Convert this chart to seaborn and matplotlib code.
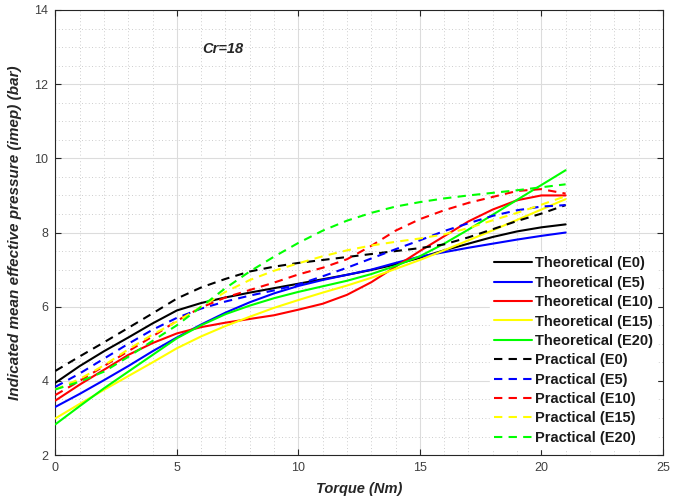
"""
Indicated mean effective pressure vs torque (Cr=18), theoretical vs practical.
"""

import numpy as np
import pandas as pd
import matplotlib
matplotlib.use("Agg")
import matplotlib.pyplot as plt
from matplotlib.ticker import MultipleLocator
import seaborn as sns

# -- Data ----------------------------------------------------------------------

torque = [0, 1, 2, 3, 4, 5, 6, 7, 8, 9, 10, 11, 12, 13, 14, 15, 16, 17, 18, 19, 20, 21]

theo_e0 = [3.95, 4.40, 4.80, 5.17, 5.55, 5.90, 6.10, 6.25, 6.38, 6.50, 6.62,
           6.74, 6.86, 6.99, 7.14, 7.32, 7.52, 7.70, 7.88, 8.03, 8.14, 8.22]
theo_e5 = [3.30, 3.65, 4.02, 4.40, 4.80, 5.17, 5.52, 5.84, 6.12, 6.36, 6.56,
           6.72, 6.86, 7.00, 7.18, 7.35, 7.47, 7.59, 7.70, 7.81, 7.91, 8.00]
theo_e10 = [3.47, 3.90, 4.30, 4.70, 5.02, 5.28, 5.45, 5.57, 5.67, 5.77, 5.92,
            6.08, 6.32, 6.66, 7.08, 7.50, 7.90, 8.30, 8.62, 8.87, 9.00, 9.00]
theo_e15 = [2.99, 3.38, 3.76, 4.13, 4.50, 4.88, 5.20, 5.48, 5.73, 5.97, 6.18,
            6.38, 6.57, 6.78, 7.02, 7.26, 7.52, 7.79, 8.06, 8.34, 8.62, 8.90]
theo_e20 = [2.83, 3.32, 3.80, 4.25, 4.70, 5.15, 5.50, 5.80, 6.03, 6.23, 6.40,
            6.55, 6.70, 6.88, 7.10, 7.36, 7.70, 8.08, 8.48, 8.88, 9.28, 9.68]

prac_e0 = [4.27, 4.66, 5.04, 5.43, 5.82, 6.22, 6.52, 6.75, 6.95, 7.08, 7.18,
           7.26, 7.34, 7.42, 7.50, 7.58, 7.68, 7.87, 8.09, 8.31, 8.51, 8.74]
prac_e5 = [3.84, 4.20, 4.60, 5.00, 5.38, 5.70, 5.95, 6.14, 6.30, 6.44, 6.60,
           6.82, 7.05, 7.30, 7.55, 7.79, 8.04, 8.25, 8.45, 8.60, 8.70, 8.74]
prac_e10 = [3.62, 4.00, 4.40, 4.80, 5.20, 5.62, 5.98, 6.25, 6.45, 6.65, 6.87,
            7.05, 7.28, 7.64, 8.05, 8.36, 8.60, 8.80, 8.96, 9.12, 9.17, 9.05]
prac_e15 = [3.77, 4.05, 4.42, 4.85, 5.25, 5.60, 6.00, 6.40, 6.72, 6.97, 7.17,
            7.36, 7.52, 7.65, 7.75, 7.84, 7.95, 8.12, 8.33, 8.53, 8.75, 8.98]
prac_e20 = [3.77, 3.98, 4.25, 4.65, 5.08, 5.50, 6.00, 6.50, 6.95, 7.35, 7.72,
            8.05, 8.32, 8.53, 8.70, 8.82, 8.92, 9.00, 9.07, 9.14, 9.22, 9.30]

SERIES = [
    ("Theoretical (E0)", theo_e0, "#000000", "-"),
    ("Theoretical (E5)", theo_e5, "#0000FF", "-"),
    ("Theoretical (E10)", theo_e10, "#FF0000", "-"),
    ("Theoretical (E15)", theo_e15, "#FFFF00", "-"),
    ("Theoretical (E20)", theo_e20, "#00FF00", "-"),
    ("Practical (E0)", prac_e0, "#000000", "--"),
    ("Practical (E5)", prac_e5, "#0000FF", "--"),
    ("Practical (E10)", prac_e10, "#FF0000", "--"),
    ("Practical (E15)", prac_e15, "#FFFF00", "--"),
    ("Practical (E20)", prac_e20, "#00FF00", "--"),
]

# -- Style ---------------------------------------------------------------------

sns.set_theme(style="ticks")
plt.rcParams.update({
    "font.family": ["Liberation Sans", "DejaVu Sans"],
    "figure.facecolor": "white",
    "axes.facecolor": "white",
    "axes.edgecolor": "#262626",
    "axes.linewidth": 0.8,
})


def main():
    frames = [pd.DataFrame({"torque": torque, "imep": vals, "series": name})
              for name, vals, _, _ in SERIES]
    df = pd.concat(frames, ignore_index=True)

    fig = plt.figure(figsize=(6.84, 4.99), dpi=100)
    ax = fig.add_axes([0.081, 0.088, 0.888, 0.892])

    handles = []
    for name, _, color, ls in SERIES:
        sub = df[df["series"] == name]
        sns.lineplot(data=sub, x="torque", y="imep", ax=ax, color=color,
                     linewidth=1.5, label=name, zorder=3)
        line = ax.get_lines()[-1]
        if ls == "--":
            line.set_dashes((4, 3))
        handles.append(line)

    ax.set_xlim(0, 25)
    ax.set_ylim(2, 14)
    ax.xaxis.set_major_locator(MultipleLocator(5))
    ax.xaxis.set_minor_locator(MultipleLocator(1))
    ax.yaxis.set_major_locator(MultipleLocator(2))
    ax.yaxis.set_minor_locator(MultipleLocator(0.5))

    ax.grid(which="major", color="#dcdcdc", linewidth=0.8, zorder=0)
    ax.grid(which="minor", color="#bdbdbd", linewidth=0.6, linestyle=(0, (1, 3)),
            zorder=0)
    ax.set_axisbelow(True)

    ax.tick_params(which="major", direction="in", length=4, width=0.8,
                   top=True, right=True, labelsize=9, labelcolor="#404040",
                   color="#262626", pad=5)
    ax.tick_params(which="minor", length=0)

    ax.set_xlabel("Torque (Nm)", fontsize=10.5, fontweight="bold",
                  fontstyle="italic", color="#262626", labelpad=6)
    ax.set_ylabel("Indicated mean effective pressure (imep) (bar)", fontsize=11,
                  fontweight="bold", fontstyle="italic", color="#262626",
                  labelpad=9)

    ax.text(6.05, 12.95, "Cr=18", fontsize=10.5, fontweight="bold",
            fontstyle="italic", color="#262626", ha="left", va="center")

    leg = ax.legend(handles=handles, labels=[s[0] for s in SERIES],
                    loc="lower right", fontsize=10.5, frameon=True,
                    fancybox=False, framealpha=1, edgecolor="white",
                    facecolor="white", handlelength=2.6, handletextpad=0.15,
                    labelspacing=0.37, borderpad=0.3, borderaxespad=0.4)
    for t in leg.get_texts():
        t.set_fontweight("bold")
        t.set_color("#1a1a1a")

    fig.savefig("out.png", dpi=100)
    plt.close(fig)


if __name__ == "__main__":
    main()
